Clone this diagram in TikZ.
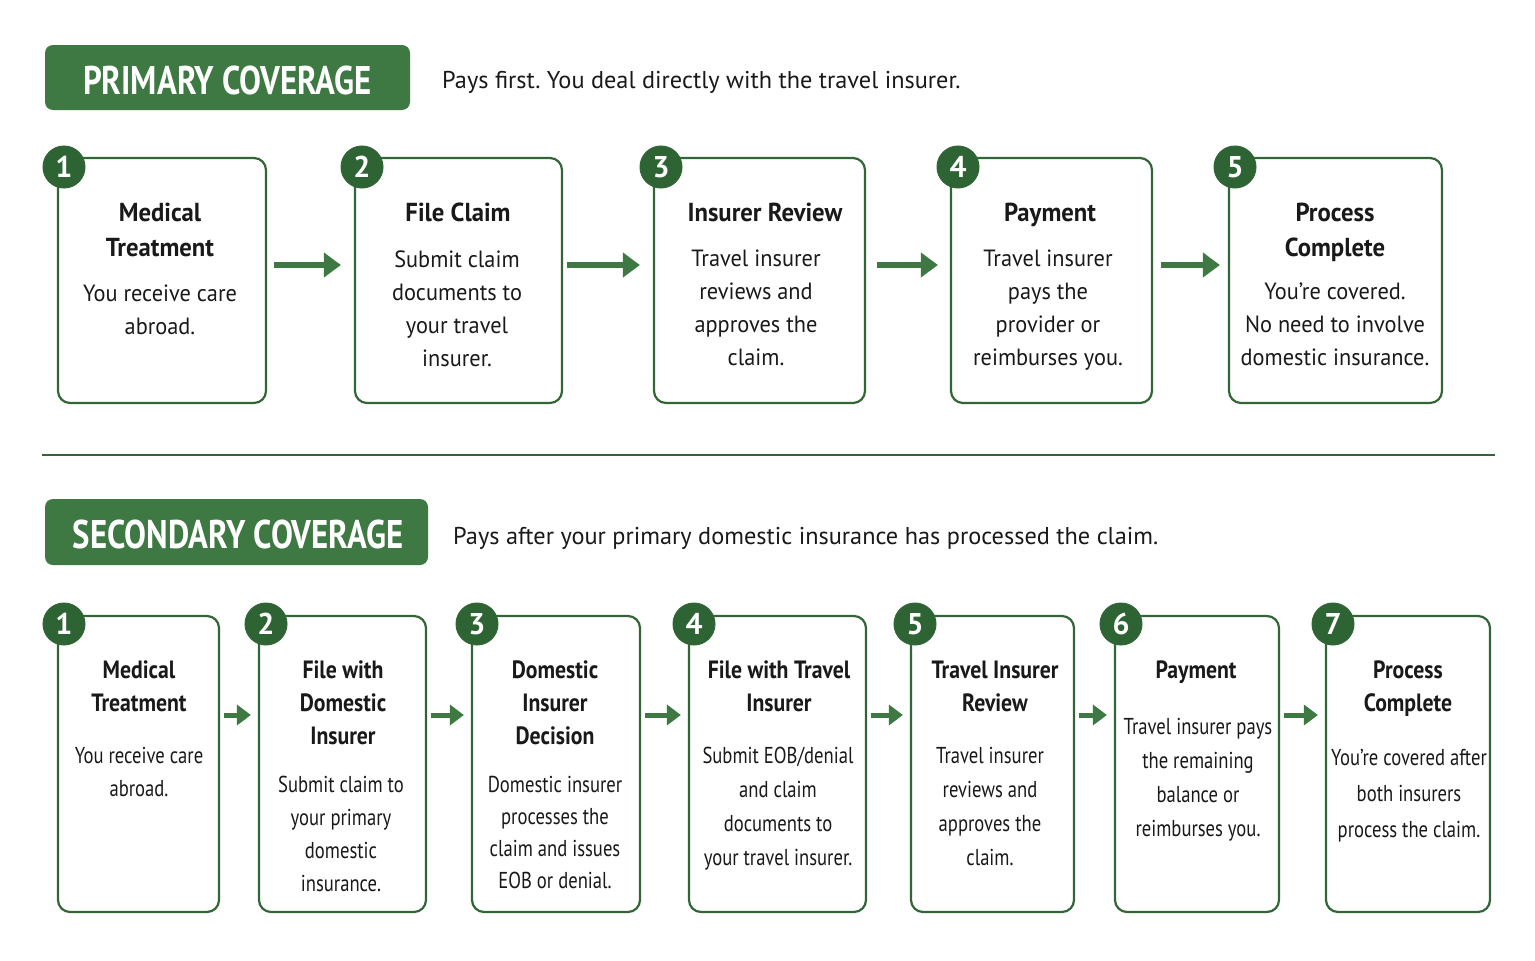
\documentclass[tikz,border=0pt]{standalone}
\usepackage{fontspec}
\setmainfont{PT Sans}
\newfontfamily\condfont{PT Sans}[FakeStretch=0.81]
\newfontfamily\condbfont{PT Sans}[FakeStretch=0.87]
\newfontfamily\topfont{PT Sans}[FakeStretch=0.95]
\newfontfamily\hdrfont{PT Sans}[FakeStretch=0.82]
\usetikzlibrary{arrows.meta}
\definecolor{hdrgreen}{RGB}{62,120,66}
\definecolor{brd}{RGB}{50,102,55}
\definecolor{circ}{RGB}{46,100,52}
\definecolor{txt}{RGB}{25,25,25}
\frenchspacing
\begin{document}
\begin{tikzpicture}[x=1pt,y=-1pt,
  card/.style={draw=brd, line width=2.2pt, rounded corners=12pt, fill=white, inner sep=0pt},
  hdrbox/.style={fill=hdrgreen, rounded corners=8pt, inner sep=0pt},
  hdrtxt/.style={text=white, inner sep=0pt, font=\hdrfont\bfseries\fontsize{40}{40}\selectfont},
  hdrdsc/.style={text=txt, inner sep=0pt, anchor=base west, font=\fontsize{24.3}{30}\selectfont},
  num/.style={circle, fill=circ, draw=brd, line width=1pt, minimum size=42pt, inner sep=0pt, text=white, font=\bfseries\fontsize{30}{30}\selectfont},
  ttl/.style={anchor=north, inner sep=0pt, align=center, text=txt, font=\topfont\bfseries\fontsize{26}{35}\selectfont},
  dsc/.style={anchor=north, inner sep=0pt, align=center, text=txt, font=\topfont\fontsize{23.5}{33}\selectfont},
  bttl/.style={anchor=north, inner sep=0pt, align=center, text=txt, font=\condbfont\bfseries\fontsize{25}{33}\selectfont},
  bdsc/.style={anchor=north, inner sep=0pt, align=center, text=txt, font=\condfont\fontsize{23}{#1}\selectfont},
  arr/.style={draw=hdrgreen, line width=5.5pt, -{Triangle[length=17pt,width=24pt]}},
  sarr/.style={draw=hdrgreen, line width=5pt, -{Triangle[length=14pt,width=20pt]}, shorten <=4pt, shorten >=7pt}
]
\fill[white] (0,0) rectangle (1535,961);
\path[use as bounding box] (0,0) rectangle (1535,961);

% ---------- PRIMARY ----------
\node[hdrbox, minimum width=365pt, minimum height=65pt] (h1) at (227.5,77.5) {};
\node[hdrtxt] (h1t) at (227.5,80) {PRIMARY COVERAGE};
\node[hdrdsc] (h1d) at (442,88.5) {Pays first. You deal directly with the travel insurer.};

\node[card, minimum width=208pt, minimum height=245pt] (c1) at (162,280.5) {};
\node[card, minimum width=207pt, minimum height=245pt] (c2) at (458.5,280.5) {};
\node[card, minimum width=211pt, minimum height=245pt] (c3) at (759.5,280.5) {};
\node[card, minimum width=201pt, minimum height=245pt] (c4) at (1051.5,280.5) {};
\node[card, minimum width=213pt, minimum height=245pt] (c5) at (1335.5,280.5) {};

\node[num] (n1) at (64,167) {1};
\node[num] (n2) at (362,167) {2};
\node[num] (n3) at (661,167) {3};
\node[num] (n4) at (958,167) {4};
\node[num] (n5) at (1235,167) {5};

\node[ttl] (c1t) at (160,196.5) {\strut Medical\\Treatment};
\node[dsc] (c1d) at (160,278.4) {\strut You receive care\\abroad.};
\node[ttl] (c2t) at (458,196.5) {\strut File Claim};
\node[dsc] (c2d) at (457,244.4) {\strut Submit claim\\documents to\\your travel\\insurer.};
\node[ttl] (c3t) at (765,196.5) {\strut Insurer Review};
\node[dsc] (c3d) at (756,243.4) {\strut Travel insurer\\reviews and\\approves the\\claim.};
\node[ttl] (c4t) at (1050,196.5) {\strut Payment};
\node[dsc] (c4d) at (1048,243.4) {\strut Travel insurer\\pays the\\provider or\\reimburses you.};
\node[ttl] (c5t) at (1335,196.5) {\strut Process\\Complete};
\node[dsc] (c5d) at (1335,276.4) {\strut You’re covered.\\No need to involve\\domestic insurance.};

\draw[arr, shorten <=7pt, shorten >=13pt] ([yshift=15.5pt]c1.east) -- ([yshift=15.5pt]c2.west);
\draw[arr, shorten <=4pt, shorten >=13pt] ([yshift=15.5pt]c2.east) -- ([yshift=15.5pt]c3.west);
\draw[arr, shorten <=11pt, shorten >=12pt] ([yshift=15.5pt]c3.east) -- ([yshift=15.5pt]c4.west);
\draw[arr, shorten <=8pt, shorten >=8pt] ([yshift=15.5pt]c4.east) -- ([yshift=15.5pt]c5.west);

% ---------- separator ----------
\draw[brd, line width=2.5pt] (42,455) -- (1495,455);

% ---------- SECONDARY ----------
\node[hdrbox, minimum width=383pt, minimum height=66pt] (h2) at (236.5,532) {};
\node[hdrtxt] (h2t) at (238,534) {SECONDARY COVERAGE};
\node[hdrdsc] (h2d) at (453,544.5) {Pays after your primary domestic insurance has processed the claim.};

\node[card, minimum width=161pt, minimum height=296pt] (d1) at (138.5,764) {};
\node[card, minimum width=167pt, minimum height=296pt] (d2) at (342.5,764) {};
\node[card, minimum width=168pt, minimum height=296pt] (d3) at (556,764) {};
\node[card, minimum width=177pt, minimum height=296pt] (d4) at (777.5,764) {};
\node[card, minimum width=163pt, minimum height=296pt] (d5) at (992.5,764) {};
\node[card, minimum width=164pt, minimum height=296pt] (d6) at (1197,764) {};
\node[card, minimum width=164pt, minimum height=296pt] (d7) at (1408,764) {};

\node[num] (m1) at (64,624) {1};
\node[num] (m2) at (266,624) {2};
\node[num] (m3) at (477,624) {3};
\node[num] (m4) at (694,624) {4};
\node[num] (m5) at (915,624) {5};
\node[num] (m6) at (1121,624) {6};
\node[num] (m7) at (1333,624) {7};

\node[bttl] (d1t) at (139,654.9) {\strut Medical\\Treatment};
\node[bdsc=33] (d1d) at (139,740.4) {\strut You receive care\\abroad.};
\node[bttl] (d2t) at (343,654.9) {\strut File with\\Domestic\\Insurer};
\node[bdsc=33] (d2d) at (341,769.4) {\strut Submit claim to\\your primary\\domestic\\insurance.};
\node[bttl] (d3t) at (555,654.9) {\strut Domestic\\Insurer\\Decision};
\node[bdsc=32] (d3d) at (555,770.1) {\strut Domestic insurer\\processes the\\claim and issues\\EOB or denial.};
\node[bttl] (d4t) at (779,654.9) {\strut File with Travel\\Insurer};
\node[bdsc=34] (d4d) at (778,739.7) {\strut Submit EOB/denial\\and claim\\documents to\\your travel insurer.};
\node[bttl] (d5t) at (995,654.9) {\strut Travel Insurer\\Review};
\node[bdsc=34] (d5d) at (990,739.7) {\strut Travel insurer\\reviews and\\approves the\\claim.};
\node[bttl] (d6t) at (1196,654.9) {\strut Payment};
\node[bdsc=34] (d6d) at (1198,710.7) {\strut Travel insurer pays\\the remaining\\balance or\\reimburses you.};
\node[bttl] (d7t) at (1408,654.9) {\strut Process\\Complete};
\node[bdsc=36] (d7d) at (1409,740.3) {\strut You’re covered after\\both insurers\\process the claim.};

\draw[sarr] ([yshift=49pt]d1.east) -- ([yshift=49pt]d2.west);
\draw[sarr] ([yshift=49pt]d2.east) -- ([yshift=49pt]d3.west);
\draw[sarr] ([yshift=49pt]d3.east) -- ([yshift=49pt]d4.west);
\draw[sarr] ([yshift=49pt]d4.east) -- ([yshift=49pt]d5.west);
\draw[sarr] ([yshift=49pt]d5.east) -- ([yshift=49pt]d6.west);
\draw[sarr] ([yshift=49pt]d6.east) -- ([yshift=49pt]d7.west);
\end{tikzpicture}
\end{document}
